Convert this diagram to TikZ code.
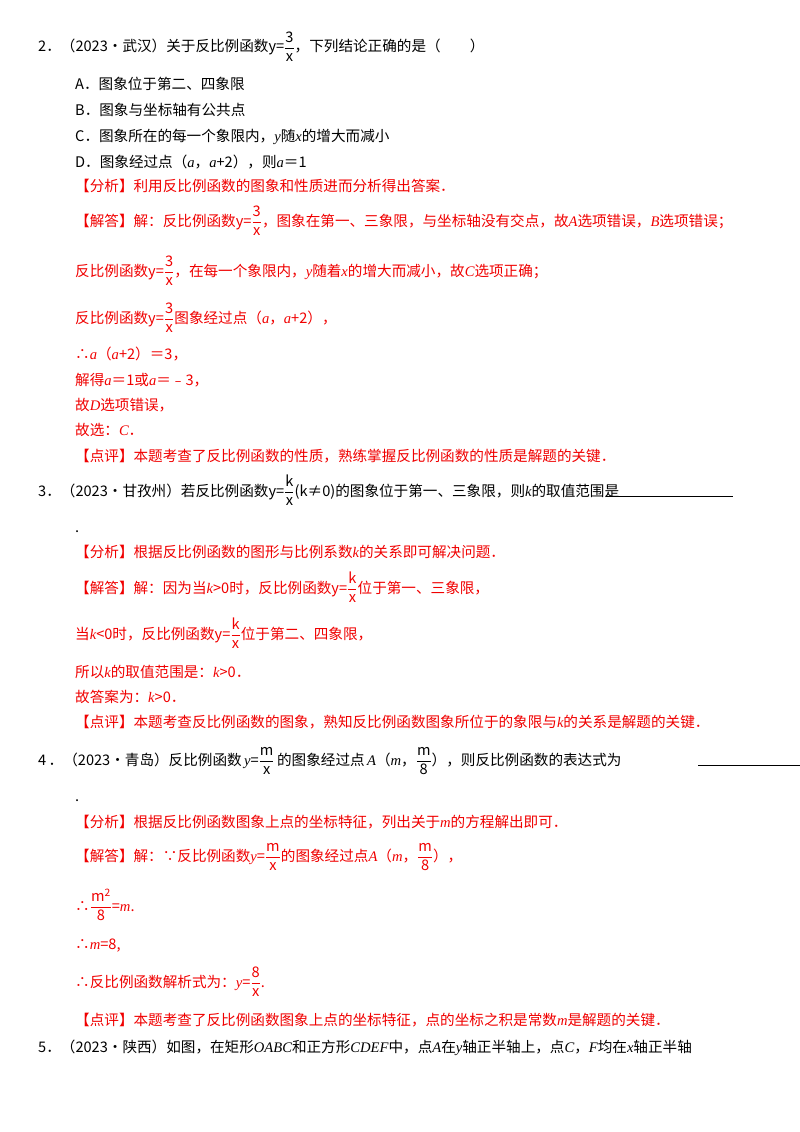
\documentclass[tikz,border=0pt]{standalone}
\usepackage{fontspec}
\setmainfont{Noto Sans CJK SC}
\newfontfamily\lsr{Liberation Serif}
\definecolor{rd}{RGB}{240,0,0}
\newcommand\fr[2]{$\displaystyle\frac{\mathrm{#1}}{\mathrm{#2}}$}
\newcommand\vv[1]{{\lsr\itshape #1}}
\begin{document}
\begin{tikzpicture}[x=1pt,y=-1pt,
  t/.style={anchor=base west,inner sep=0pt,font=\fontsize{14.6}{16}\selectfont},
  r/.style={t,text=rd}]
\useasboundingbox (0,0) rectangle (800,1132);
\node[t] (q2) at (38,52) {2．（2023•武汉）关于反比例函数y=\fr{3}{x}，下列结论正确的是（\quad\quad）};
\node[t] (a) at (75,89) {A．图象位于第二、四象限};
\node[t] (b) at (75,115) {B．图象与坐标轴有公共点};
\node[t] (c) at (75,141) {C．图象所在的每一个象限内，\vv{y}随\vv{x}的增大而减小};
\node[t] (d) at (75,167) {D．图象经过点（\vv{a}，\vv{a}+2），则\vv{a}＝1};
\node[r] (f1) at (75,191) {【分析】利用反比例函数的图象和性质进而分析得出答案．};
\node[r] (j1) at (75,226) {【解答】解：反比例函数y=\fr{3}{x}，图象在第一、三象限，与坐标轴没有交点，故\vv{A}选项错误，\vv{B}选项错误；};
\node[r] (j2) at (75,276) {反比例函数y=\fr{3}{x}，在每一个象限内，\vv{y}随着\vv{x}的增大而减小，故\vv{C}选项正确；};
\node[r] (j3) at (75,323) {反比例函数y=\fr{3}{x}图象经过点（\vv{a}，\vv{a}+2），};
\node[r] (j4) at (75,359) {∴\vv{a}（\vv{a}+2）＝3，};
\node[r] (j5) at (75,385) {解得\vv{a}＝1或\vv{a}＝﹣3，};
\node[r] (j6) at (75,410) {故\vv{D}选项错误，};
\node[r] (j7) at (75,435) {故选：\vv{C}．};
\node[r] (p1) at (75,461) {【点评】本题考查了反比例函数的性质，熟练掌握反比例函数的性质是解题的关键．};
\node[t] (q3) at (38,496) {3．（2023•甘孜州）若反比例函数y=\fr{k}{x}(k≠0)的图象位于第一、三象限，则\vv{k}的取值范围是};
\coordinate (u1) at (606,496);
\coordinate (u2) at (733,496);
\draw (u1) -- (u2);
\node[t] (q3b) at (75,532) {.};
\node[r] (f2) at (75,557) {【分析】根据反比例函数的图形与比例系数\vv{k}的关系即可解决问题．};
\node[r] (k1) at (75,593) {【解答】解：因为当\vv{k}>0时，反比例函数y=\fr{k}{x}位于第一、三象限，};
\node[r] (k2) at (75,639) {当\vv{k}<0时，反比例函数y=\fr{k}{x}位于第二、四象限，};
\node[r] (k3) at (75,677) {所以\vv{k}的取值范围是：\vv{k}>0．};
\node[r] (k4) at (75,702) {故答案为：\vv{k}>0．};
\node[r] (p2) at (75,727) {【点评】本题考查反比例函数的图象，熟知反比例函数图象所位于的象限与\vv{k}的关系是解题的关键．};
\node[t] (q4) at (38,765) {4\,．（2023•青岛）反比例函数\,\vv{y}=\fr{m}{x}\,的图象经过点\,\vv{A}（\vv{m}，\fr{m}{8}），则反比例函数的表达式为};
\coordinate (u3) at (698,765);
\coordinate (u4) at (800,765);
\draw (u3) -- (u4);
\node[t] (q4b) at (75,801) {.};
\node[r] (f3) at (75,827) {【分析】根据反比例函数图象上点的坐标特征，列出关于\vv{m}的方程解出即可．};
\node[r] (m1) at (75,861) {【解答】解：∵反比例函数\vv{y}=\fr{m}{x}的图象经过点\vv{A}（\vv{m}，\fr{m}{8}），};
\node[r] (m2) at (75,911) {∴\fr{m^2}{8}=\vv{m}.};
\node[r] (m3) at (75,949) {∴\vv{m}=8,};
\node[r] (m4) at (75,987) {∴反比例函数解析式为：\vv{y}=\fr{8}{x}.};
\node[r] (p3) at (75,1025) {【点评】本题考查了反比例函数图象上点的坐标特征，点的坐标之积是常数\vv{m}是解题的关键．};
\node[t] (q5) at (38,1052) {5．（2023•陕西）如图，在矩形\vv{OABC}和正方形\vv{CDEF}中，点\vv{A}在\vv{y}轴正半轴上，点\vv{C}，\vv{F}均在\vv{x}轴正半轴};
\end{tikzpicture}
\end{document}
